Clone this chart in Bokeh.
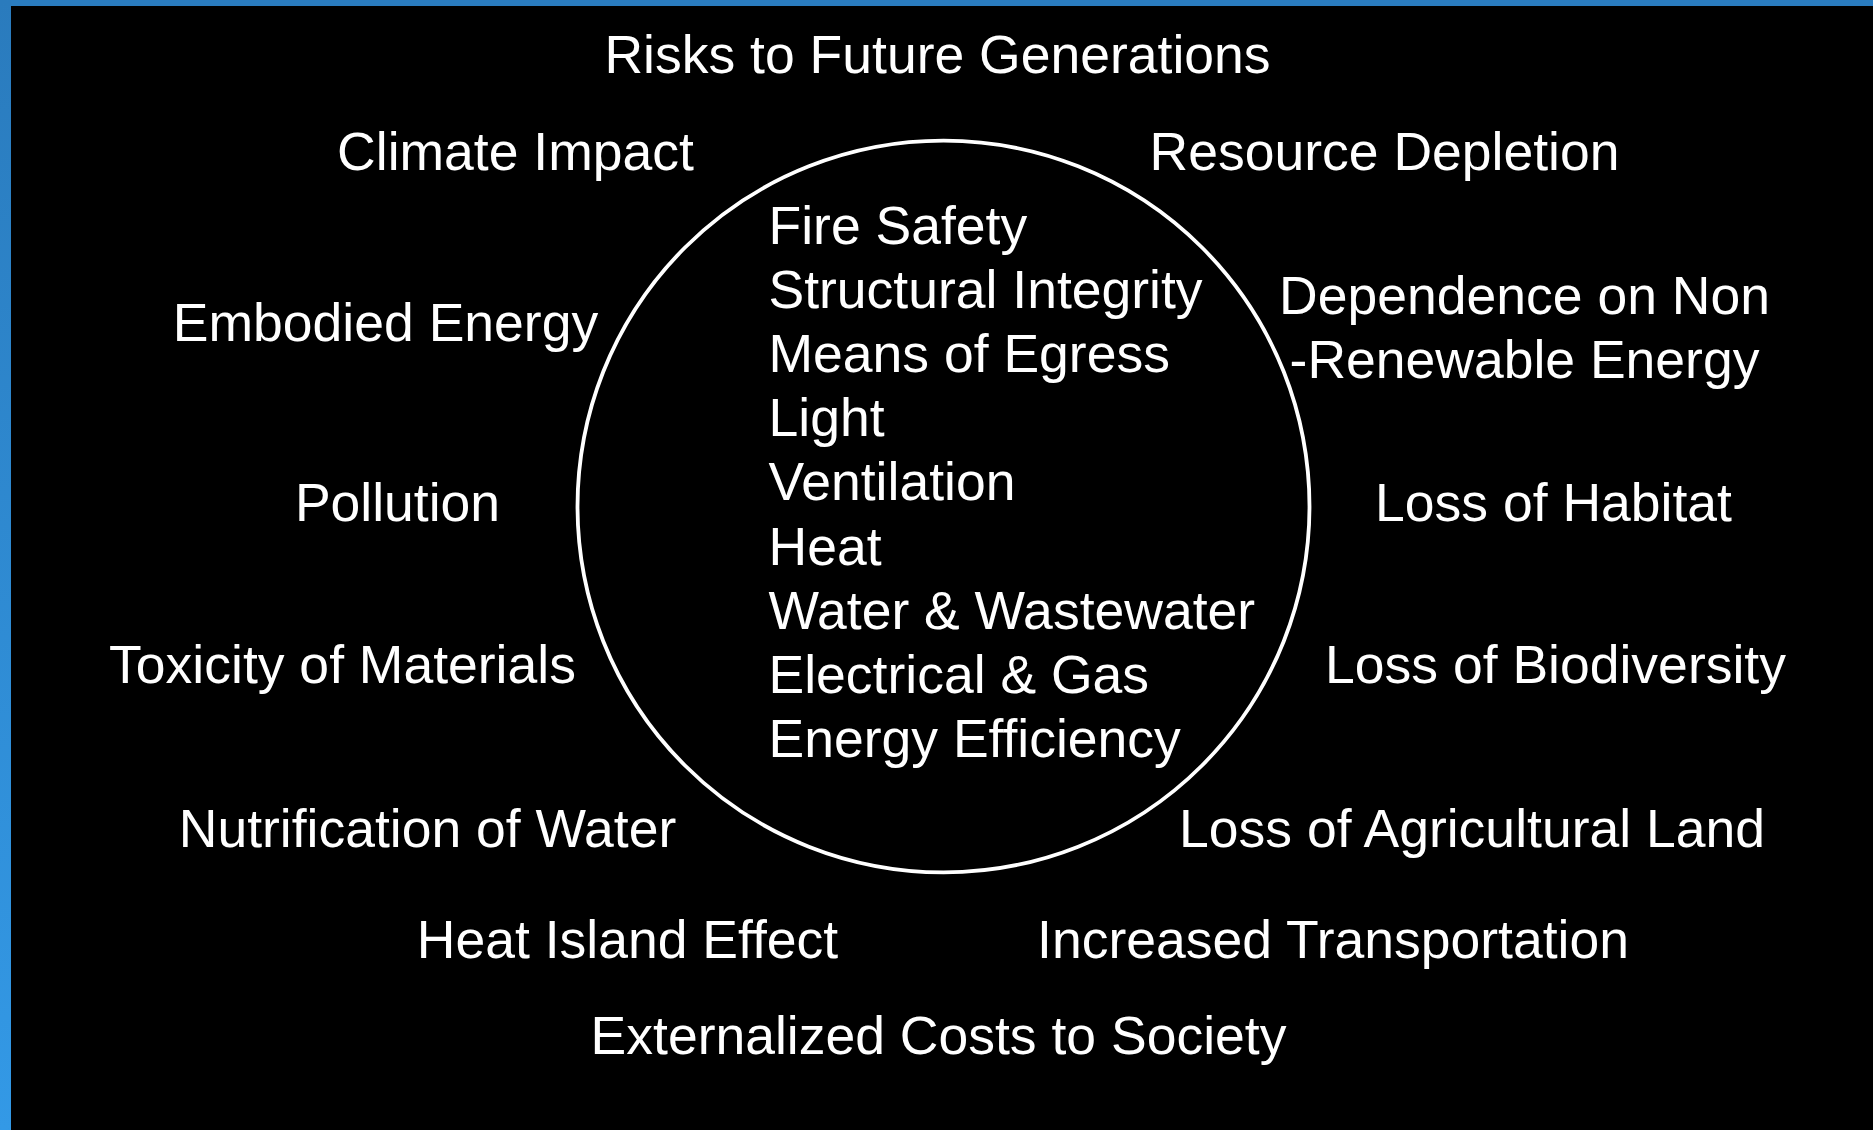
from bokeh.plotting import figure
from bokeh.models import Range1d, ColumnDataSource, GlobalInlineStyleSheet
from bokeh.core.properties import value
from bokeh.embed import file_html
from bokeh.resources import INLINE

# ---- content ----
outer_labels = [
    "Risks to Future Generations",
    "Climate Impact", "Resource Depletion",
    "Embodied Energy", "Dependence on Non", "-Renewable Energy",
    "Pollution", "Loss of Habitat",
    "Toxicity of Materials", "Loss of Biodiversity",
    "Nutrification of Water", "Loss of Agricultural Land",
    "Heat Island Effect", "Increased Transportation",
    "Externalized Costs to Society",
]
inner_labels = [
    "Fire Safety", "Structural Integrity", "Means of Egress", "Light",
    "Ventilation", "Heat", "Water & Wastewater", "Electrical & Gas",
    "Energy Efficiency",
]

# ---- layout (screen-pixel coordinates) ----
outer_x = [937, 515, 1384, 385, 1524, 1524, 397, 1553, 342, 1555, 427, 1473, 627, 1333, 938]
outer_y = [54, 151, 151, 322, 295, 359, 502, 502, 664, 664, 828, 828, 939, 939, 1035]
inner_x = [768] * len(inner_labels)
inner_y = [224.6, 288.8, 353.0, 417.2, 481.4, 545.6, 609.8, 674.0, 738.2]
ring_x, ring_y, ring_r = [943], [506], 366

W, H = 1873, 1130
LEFT, TOP = 11, 6
FONT = "Liberation Sans"
FS = "53.5px"

css = """
html {
  background-color: #000000;
  background-image: linear-gradient(to bottom, #2a7bbd, #3399e6),
                    linear-gradient(#2a7cbf, #2a7cbf);
  background-size: 11px 100%, 100% 6px;
  background-repeat: no-repeat;
  background-position: 0 0, 0 0;
}
body { background: transparent; }
"""

p = figure(width=W, height=H, output_backend="svg", toolbar_location=None,
           x_range=Range1d(LEFT, W), y_range=Range1d(H, TOP),
           min_border=0, min_border_left=LEFT, min_border_top=TOP,
           outline_line_color=None,
           background_fill_color="#000000", border_fill_alpha=0)
p.stylesheets = [GlobalInlineStyleSheet(css=css)]
p.axis.visible = False
p.grid.visible = False

p.circle(x=ring_x, y=ring_y, radius=ring_r, fill_alpha=0,
         line_color="#ffffff", line_width=3.8)

src_out = ColumnDataSource(dict(x=outer_x, y=outer_y, t=outer_labels))
p.text(x="x", y="y", text="t", source=src_out, text_color="#ffffff",
       text_font=value(FONT), text_font_size=FS, text_align="center",
       text_baseline="alphabetic")

src_in = ColumnDataSource(dict(x=inner_x, y=inner_y, t=inner_labels))
p.text(x="x", y="y", text="t", source=src_in, text_color="#ffffff",
       text_font=value(FONT), text_font_size=FS, text_align="left",
       text_baseline="alphabetic")

open("out.html", "w").write(file_html(p, INLINE))
